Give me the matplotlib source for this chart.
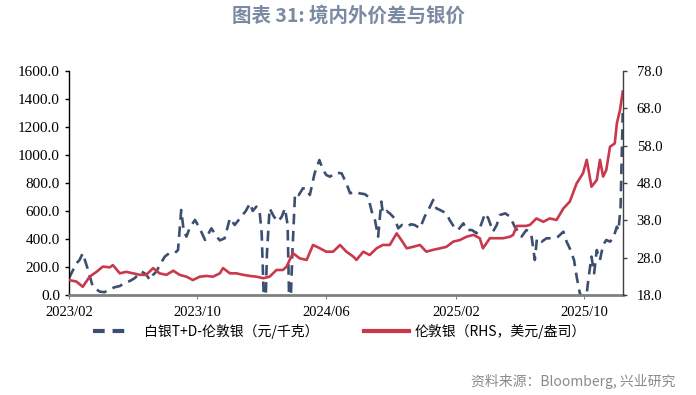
import pandas as pd
import matplotlib
matplotlib.use("Agg")
import matplotlib.pyplot as plt
from matplotlib.lines import Line2D

plt.rcParams['font.family'] = ['Noto Sans CJK SC', 'DejaVu Sans']

# 白银T+D-伦敦银 价差（元/千克）
fechas_td = [
    "2023-02-01", "2023-02-15", "2023-02-21", "2023-02-27", "2023-03-09", "2023-03-18",
    "2023-03-31", "2023-04-09", "2023-04-19", "2023-04-28", "2023-05-08", "2023-05-17",
    "2023-05-27", "2023-06-05", "2023-06-18", "2023-06-26", "2023-07-04", "2023-07-09",
    "2023-07-16", "2023-07-22", "2023-08-01", "2023-08-10", "2023-08-20", "2023-08-26",
    "2023-09-01", "2023-09-06", "2023-09-11", "2023-09-17", "2023-09-27", "2023-10-06",
    "2023-10-16", "2023-10-28", "2023-11-07", "2023-11-13", "2023-11-22", "2023-12-02",
    "2023-12-11", "2023-12-26", "2024-01-01", "2024-01-09", "2024-01-14", "2024-01-21",
    "2024-01-27", "2024-01-31", "2024-02-06", "2024-02-10", "2024-02-15", "2024-02-23",
    "2024-03-02", "2024-03-09", "2024-03-15", "2024-03-20", "2024-03-24", "2024-03-29",
    "2024-04-03", "2024-04-10", "2024-04-18", "2024-04-25", "2024-05-01", "2024-05-10",
    "2024-05-19", "2024-05-26", "2024-06-01", "2024-06-08", "2024-06-20", "2024-06-30",
    "2024-07-09", "2024-07-16", "2024-07-25", "2024-08-03", "2024-08-13", "2024-08-19",
    "2024-08-26", "2024-09-01", "2024-09-07", "2024-09-13", "2024-09-16", "2024-09-23",
    "2024-09-29", "2024-10-08", "2024-10-15", "2024-10-22", "2024-10-31", "2024-11-08",
    "2024-11-15", "2024-11-25", "2024-12-04", "2024-12-14", "2024-12-20", "2024-12-26",
    "2025-01-02", "2025-01-08", "2025-01-14", "2025-01-20", "2025-01-30", "2025-02-05",
    "2025-02-15", "2025-02-21", "2025-03-03", "2025-03-12", "2025-03-18", "2025-03-28",
    "2025-04-03", "2025-04-12", "2025-04-19", "2025-04-25", "2025-05-05", "2025-05-14",
    "2025-05-23", "2025-06-05", "2025-06-14", "2025-06-23", "2025-06-30", "2025-07-04",
    "2025-07-13", "2025-07-22", "2025-08-04", "2025-08-13", "2025-08-23", "2025-08-29",
    "2025-09-04", "2025-09-12", "2025-09-17", "2025-09-23", "2025-09-29", "2025-10-06",
    "2025-10-09", "2025-10-15", "2025-10-20", "2025-10-25", "2025-10-31", "2025-11-06",
    "2025-11-12", "2025-11-19", "2025-11-25", "2025-12-02", "2025-12-05", "2025-12-09",
    "2025-12-13",
]
spread = [
    120, 226, 250, 298, 179, 59,
    24, 20, 40, 55, 64, 85,
    100, 120, 167, 150, 107, 140,
    167, 210, 274, 300, 300, 321,
    607, 450, 417, 480, 536, 476,
    393, 476, 417, 390, 405, 548,
    500, 571, 600, 655, 600, 631,
    600, 441, -250, 300, 619, 560,
    524, 560, 619, 500, -250, 300,
    726, 714, 762, 760, 714, 869,
    964, 893, 857, 845, 874, 869,
    798, 726, 738, 726, 720, 702,
    595, 536, 417, 667, 583, 600,
    583, 548, 476, 500, 488, 505,
    500, 476, 560, 631, 679, 619,
    607, 595, 583, 536, 476, 464,
    512, 464, 464, 441, 476, 583,
    548, 452, 500, 571, 583, 560,
    488, 417, 464, 440, 250, 405,
    381, 405, 405, 417, 452, 381,
    333, 250, 131, 12, -20, 10,
    107, 274, 155, 321, 250, 357,
    393, 381, 405, 488, 460, 631,
    1300,
]

# 伦敦银（美元/盎司）
fechas_ldn = [
    "2023-02-01", "2023-02-15", "2023-02-27", "2023-03-12", "2023-03-25", "2023-04-06",
    "2023-04-19", "2023-04-25", "2023-05-08", "2023-05-20", "2023-06-02", "2023-06-15",
    "2023-06-27", "2023-07-10", "2023-07-22", "2023-08-04", "2023-08-17", "2023-08-29",
    "2023-09-11", "2023-09-23", "2023-10-06", "2023-10-19", "2023-10-31", "2023-11-13",
    "2023-11-19", "2023-12-02", "2023-12-14", "2023-12-27", "2024-01-09", "2024-01-21",
    "2024-02-03", "2024-02-15", "2024-02-28", "2024-03-11", "2024-03-18", "2024-03-30",
    "2024-04-12", "2024-04-25", "2024-05-07", "2024-05-20", "2024-06-01", "2024-06-14",
    "2024-06-27", "2024-07-09", "2024-07-22", "2024-07-28", "2024-08-10", "2024-08-22",
    "2024-09-04", "2024-09-16", "2024-09-29", "2024-10-12", "2024-10-21", "2024-10-31",
    "2024-11-12", "2024-11-25", "2024-12-07", "2024-12-20", "2025-01-02", "2025-01-14",
    "2025-01-27", "2025-02-08", "2025-02-21", "2025-03-06", "2025-03-18", "2025-03-24",
    "2025-04-06", "2025-04-19", "2025-05-01", "2025-05-14", "2025-05-20", "2025-05-27",
    "2025-06-14", "2025-06-21", "2025-07-03", "2025-07-16", "2025-07-28", "2025-08-10",
    "2025-08-23", "2025-09-04", "2025-09-17", "2025-09-29", "2025-10-06", "2025-10-15",
    "2025-10-25", "2025-10-31", "2025-11-06", "2025-11-12", "2025-11-19", "2025-11-28",
    "2025-12-02", "2025-12-08", "2025-12-13",
]
silver = [
    22.0, 21.6, 20.2, 22.9, 24.2, 25.6,
    25.4, 26.0, 23.8, 24.2, 23.8, 23.4,
    23.4, 25.2, 23.8, 23.4, 24.5, 23.4,
    22.9, 22.0, 22.9, 23.1, 22.9, 23.8,
    25.2, 23.8, 23.8, 23.4, 23.1, 22.9,
    22.5, 22.9, 24.7, 24.7, 25.6, 29.2,
    27.8, 27.4, 31.4, 30.5, 29.6, 29.6,
    31.4, 29.6, 28.3, 27.4, 29.6, 28.7,
    30.5, 31.4, 31.4, 34.5, 32.7, 30.5,
    30.9, 31.4, 29.6, 30.1, 30.5, 30.9,
    32.3, 32.7, 33.6, 34.1, 33.2, 30.5,
    33.2, 33.2, 33.2, 33.6, 34.1, 36.5,
    36.5, 36.8, 38.5, 37.6, 38.5, 38.1,
    41.2, 43.0, 47.9, 50.6, 54.2, 47.0,
    48.8, 54.2, 49.7, 51.5, 57.7, 58.6,
    64.0, 67.6, 72.5,
]

x_ticks = ["2023-02-01", "2023-10-01", "2024-06-01", "2025-02-01", "2025-10-01"]
x_labels = ["2023/02", "2023/10", "2024/06", "2025/02", "2025/10"]
left_ticks = [0, 200, 400, 600, 800, 1000, 1200, 1400, 1600]
right_ticks = [18, 28, 38, 48, 58, 68, 78]

azul = "#3d4f70"
rojo = "#c9394b"

fig = plt.figure(figsize=(6.96, 3.95), dpi=100)
ax = fig.add_axes([0.0991, 0.2532, 0.7956, 0.5671])
ax2 = ax.twinx()

ax.plot(pd.to_datetime(fechas_td), spread, color=azul, lw=1.9, dashes=(4, 2.5))
ax2.plot(pd.to_datetime(fechas_ldn), silver, color=rojo, lw=1.9)

ax.set_xlim(pd.Timestamp("2023-02-01"), pd.Timestamp("2025-12-13"))
ax.set_ylim(0, 1600)
ax2.set_ylim(18, 78)

serif = "Liberation Serif"
ax.set_xticks(pd.to_datetime(x_ticks))
ax.set_xticklabels(x_labels, fontfamily=serif, fontsize=10.5)
ax.set_yticks(left_ticks)
ax.set_yticklabels([f"{v:.1f}" for v in left_ticks], fontfamily=serif, fontsize=11)
ax2.set_yticks(right_ticks)
ax2.set_yticklabels([f"{v:.1f}" for v in right_ticks], fontfamily=serif, fontsize=10.5)

# ejes
for s in ["top", "right"]:
    ax.spines[s].set_visible(False)
for s in ["top", "left", "bottom"]:
    ax2.spines[s].set_visible(False)
ax.spines["bottom"].set_color("#808080")
ax.spines["bottom"].set_linewidth(2)
ax.spines["left"].set_color("black")
ax.spines["left"].set_linewidth(1)
ax2.spines["right"].set_color("#404040")
ax2.spines["right"].set_linewidth(1)
ax.tick_params(axis="x", length=3, color="#808080", pad=5)
ax.tick_params(axis="y", length=3, width=1, pad=3.5)
ax2.tick_params(axis="y", length=3, width=1, color="#404040", pad=7)

# leyenda
handles = [
    Line2D([0], [0], color=azul, lw=3, linestyle=(0, (2.8, 1.9, 2.8, 4.0))),
    Line2D([0], [0], color=rojo, lw=3),
]
fig.legend(handles, ["白银T+D-伦敦银（元/千克）", "伦敦银（RHS，美元/盎司）"],
           loc="center", bbox_to_anchor=(0.488, 0.162), ncol=2, frameon=False,
           fontsize=10, handlelength=3.2, columnspacing=3.3, handletextpad=0.45)

fig.text(0.5, 0.959, "图表 31: 境内外价差与银价", ha="center", va="center",
         fontsize=14, fontweight="bold", color="#7a8aa3")
fig.text(0.97, 0.035, "资料来源：Bloomberg, 兴业研究", ha="right", va="center",
         fontsize=10, color="#8a8a8a")

fig.savefig("out.png", dpi=100)
